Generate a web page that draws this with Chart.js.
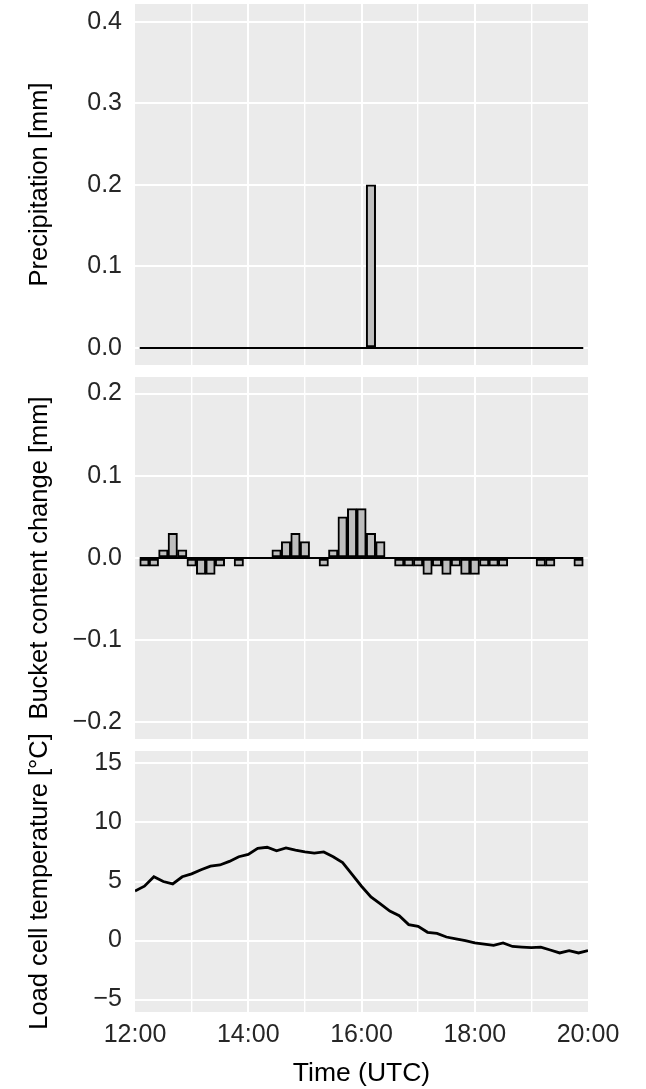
<!DOCTYPE html>
<html>
<head>
<meta charset="utf-8">
<script src="https://cdn.jsdelivr.net/npm/chart.js@4.4.1/dist/chart.umd.min.js"></script>
<style>
  html, body { margin: 0; padding: 0; background: #fff; }
  #wrap { position: relative; width: 646px; height: 1089px; }
  canvas { position: absolute; left: 0; }
</style>
</head>
<body>
<div id="wrap">
  <canvas id="precip" width="646" height="371" style="top:0px"></canvas>
  <canvas id="bucket" width="646" height="374" style="top:371px"></canvas>
  <canvas id="temp" width="646" height="389" style="top:700px"></canvas>
</div>
<script>
// 10-minute bars, centred on these times
const barTimes = [
  '12:10', '12:20', '12:30', '12:40', '12:50', '13:00', '13:10', '13:20', '13:30', '13:40',
  '13:50', '14:00', '14:10', '14:20', '14:30', '14:40', '14:50', '15:00', '15:10', '15:20',
  '15:30', '15:40', '15:50', '16:00', '16:10', '16:20', '16:30', '16:40', '16:50', '17:00',
  '17:10', '17:20', '17:30', '17:40', '17:50', '18:00', '18:10', '18:20', '18:30', '18:40',
  '18:50', '19:00', '19:10', '19:20', '19:30', '19:40', '19:50'
];
const precipValues = [
  0, 0, 0, 0, 0, 0, 0, 0, 0, 0,
  0, 0, 0, 0, 0, 0, 0, 0, 0, 0,
  0, 0, 0, 0, 0.2, 0, 0, 0, 0, 0,
  0, 0, 0, 0, 0, 0, 0, 0, 0, 0,
  0, 0, 0, 0, 0, 0, 0
];
const bucketValues = [
  -0.01, -0.01, 0.01, 0.03, 0.01, -0.01, -0.02, -0.02, -0.01, 0,
  -0.01, 0, 0, 0, 0.01, 0.02, 0.03, 0.02, 0, -0.01,
  0.01, 0.05, 0.06, 0.06, 0.03, 0.02, 0, -0.01, -0.01, -0.01,
  -0.02, -0.01, -0.02, -0.01, -0.02, -0.02, -0.01, -0.01, -0.01, 0,
  0, 0, -0.01, -0.01, 0, 0, -0.01
];

// load cell temperature, every 10 minutes
const tempTimes = [
  '12:00', '12:10', '12:20', '12:30', '12:40', '12:50', '13:00', '13:10', '13:20', '13:30',
  '13:40', '13:50', '14:00', '14:10', '14:20', '14:30', '14:40', '14:50', '15:00', '15:10',
  '15:20', '15:30', '15:40', '15:50', '16:00', '16:10', '16:20', '16:30', '16:40', '16:50',
  '17:00', '17:10', '17:20', '17:30', '17:40', '17:50', '18:00', '18:10', '18:20', '18:30',
  '18:40', '18:50', '19:00', '19:10', '19:20', '19:30', '19:40', '19:50', '20:00'
];
const tempValues = [
  4.2, 4.6, 5.4, 5.0, 4.8, 5.4, 5.65, 6.0, 6.3, 6.4,
  6.7, 7.1, 7.3, 7.8, 7.9, 7.6, 7.85, 7.65, 7.5, 7.4,
  7.5, 7.1, 6.6, 5.6, 4.6, 3.7, 3.1, 2.5, 2.1, 1.35,
  1.2, 0.7, 0.6, 0.3, 0.15, 0.0, -0.2, -0.3, -0.4, -0.2,
  -0.5, -0.55, -0.6, -0.55, -0.8, -1.05, -0.85, -1.05, -0.85
];

// axes
const gridHours = ['12:00', '13:00', '14:00', '15:00', '16:00', '17:00', '18:00', '19:00', '20:00'];
const xTickLabels = ['12:00', '14:00', '16:00', '18:00', '20:00'];
const precipTicks = [0, 0.1, 0.2, 0.3, 0.4];
const bucketTicks = [-0.2, -0.1, 0, 0.1, 0.2];
const tempTicks = [-5, 0, 5, 10, 15];
const tempMinor = [-2.5, 2.5, 7.5, 12.5];

const FONT = "'Liberation Sans', Arial, sans-serif";
const TICK_COLOR = '#262626';
const toMin = t => { const [h, m] = t.split(':').map(Number); return (h - 12) * 60 + m; };
const minus = s => s.replace('-', '\u2212');

// grey panel background
const panelBg = {
  id: 'panelBg',
  beforeDraw(chart) {
    const { ctx, chartArea: a } = chart;
    ctx.save();
    ctx.fillStyle = '#ebebeb';
    ctx.fillRect(a.left, a.top, a.right - a.left, a.bottom - a.top);
    ctx.restore();
  }
};

function xAxis(showLabels, height) {
  const first = gridHours[0], last = gridHours[gridHours.length - 1];
  return {
    type: 'linear',
    min: toMin(first),
    max: toMin(last),
    offset: false,
    afterBuildTicks: a => { a.ticks = gridHours.map(h => ({ value: toMin(h) })); },
    afterFit: a => { a.height = height; a.paddingLeft = 0; a.paddingRight = 0; },
    grid: {
      offset: false,
      color: '#fff',
      drawTicks: false,
      lineWidth: c => {
        const h = gridHours[c.index];
        if (h === first || h === last) return 0;
        return xTickLabels.includes(h) ? 2 : 1.4;
      }
    },
    border: { display: false },
    ticks: {
      display: showLabels,
      autoSkip: false,
      maxRotation: 0,
      padding: 8,
      color: TICK_COLOR,
      font: { family: FONT, size: 25 },
      callback: (v, i) => xTickLabels.includes(gridHours[i]) ? gridHours[i] : ''
    },
    title: showLabels
      ? { display: true, text: 'Time (UTC)', color: '#000', font: { family: FONT, size: 26.5, lineHeight: 1 }, padding: { top: 0, bottom: 2 } }
      : { display: false }
  };
}

function yAxis(min, max, major, minor, fmt, title) {
  const all = major.concat(minor).sort((a, b) => a - b);
  return {
    min, max,
    afterBuildTicks: a => { a.ticks = all.map(v => ({ value: v })); },
    afterFit: a => { a.width = 135; a.paddingTop = 0; a.paddingBottom = 0; },
    grid: {
      color: '#fff',
      drawTicks: false,
      lineWidth: c => major.includes(all[c.index]) ? 2 : 1.4
    },
    border: { display: false },
    ticks: {
      padding: 13,
      color: TICK_COLOR,
      font: { family: FONT, size: 25 },
      callback: (v, i) => major.includes(all[i]) ? minus(fmt(all[i])) : ''
    },
    title: { display: true, text: title, color: '#000', font: { family: FONT, size: 25.5, lineHeight: 1 }, padding: { top: 27, bottom: 0 } }
  };
}

function barPanel(id, values, yMin, yMax, ticks, title, padTop, padBottom) {
  const xs = barTimes.map(toMin);
  const half = (xs[1] - xs[0]) / 2;
  return new Chart(document.getElementById(id), {
    type: 'bar',
    data: {
      datasets: [
        {
          type: 'line',
          label: 'baseline',
          data: [{ x: xs[0] - half, y: 0 }, { x: xs[xs.length - 1] + half, y: 0 }],
          borderColor: '#000',
          borderWidth: 2,
          pointRadius: 0
        },
        {
          label: title,
          data: xs.map((x, i) => ({ x, y: values[i] })),
          backgroundColor: '#bebebe',
          borderColor: '#000',
          borderWidth: 2,
          borderSkipped: false,
          barPercentage: 1,
          categoryPercentage: 1,
          grouped: false
        }
      ]
    },
    options: {
      responsive: false,
      animation: false,
      layout: { padding: { top: padTop, bottom: padBottom, left: 0, right: 58 } },
      plugins: { legend: { display: false }, tooltip: { enabled: false } },
      scales: {
        x: xAxis(false, 0),
        y: yAxis(yMin, yMax, ticks, [], v => v.toFixed(1), title)
      }
    },
    plugins: [panelBg]
  });
}

barPanel('precip', precipValues, -0.021, 0.4217, precipTicks, 'Precipitation [mm]', 4, 6);
barPanel('bucket', bucketValues, -0.2202, 0.2202, bucketTicks, 'Bucket content change [mm]', 6, 6);

new Chart(document.getElementById('temp'), {
  type: 'line',
  data: {
    datasets: [{
      label: 'Load cell temperature',
      data: tempTimes.map((t, i) => ({ x: toMin(t), y: tempValues[i] })),
      borderColor: '#000',
      borderWidth: 2.8,
      pointRadius: 0,
      tension: 0
    }]
  },
  options: {
    responsive: false,
    animation: false,
    layout: { padding: { top: 51, bottom: 0, left: 0, right: 58 } },
    plugins: { legend: { display: false }, tooltip: { enabled: false } },
    scales: {
      x: xAxis(true, 77),
      y: yAxis(-6.05, 16.05, tempTicks, tempMinor, v => String(v), 'Load cell temperature [°C]')
    }
  },
  plugins: [panelBg]
});
</script>
</body>
</html>
